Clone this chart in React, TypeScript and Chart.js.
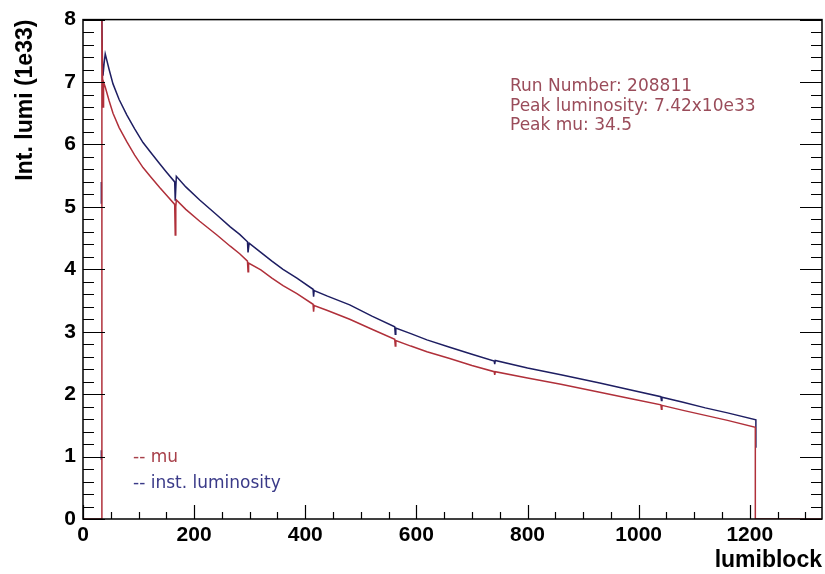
import React, { useEffect, useRef } from 'react';
import { Chart, registerables } from 'chart.js';

Chart.register(...registerables);

// inst. luminosity (blue)
const lumiBlocksInst: number[] = [33, 33, 33, 33, 33, 34, 34, 35, 36, 38, 40, 47, 54, 65, 79, 93, 108, 122, 138, 150, 165, 166, 167, 168, 185, 210, 241, 265, 282, 296, 297, 298, 299, 320, 340, 360, 385, 414, 415, 416, 440, 480, 520, 561, 562, 563, 590, 619, 660, 700, 740, 741, 742, 800, 860, 930, 980, 1040, 1041, 1042, 1080, 1120, 1160, 1211, 1211];
const instLumi: (number | null)[] = [0.95, 1.1, null, 5.05, 5.4, null, 8.0, 7.3, 7.1, 7.3, 7.45, 7.2, 6.97, 6.72, 6.47, 6.25, 6.03, 5.87, 5.69, 5.56, 5.4, 5.1, 5.1, 5.49, 5.32, 5.11, 4.87, 4.68, 4.56, 4.44, 4.27, 4.27, 4.42, 4.27, 4.13, 4.0, 3.86, 3.68, 3.56, 3.66, 3.57, 3.43, 3.25, 3.08, 2.96, 3.06, 2.97, 2.87, 2.75, 2.64, 2.53, 2.48, 2.54, 2.42, 2.31, 2.18, 2.08, 1.96, 1.9, 1.95, 1.87, 1.78, 1.7, 1.59, 1.14];

// mu (red, scaled)
const lumiBlocksMu: number[] = [0, 34, 34, 35, 36, 37, 40, 47, 54, 65, 79, 93, 108, 122, 138, 150, 165, 166, 167, 168, 185, 210, 241, 265, 282, 296, 297, 298, 320, 340, 360, 385, 414, 415, 416, 440, 480, 520, 561, 562, 563, 590, 619, 660, 700, 740, 741, 742, 800, 860, 930, 980, 1040, 1041, 1042, 1080, 1120, 1160, 1210, 1210, 1330];
const muValues: number[] = [0, 0, 8.0, 7.2, 6.6, 7.0, 6.92, 6.7, 6.5, 6.27, 6.04, 5.83, 5.63, 5.48, 5.31, 5.19, 5.04, 4.55, 5.0, 5.11, 4.96, 4.77, 4.55, 4.37, 4.25, 4.13, 3.96, 4.1, 3.99, 3.86, 3.74, 3.61, 3.44, 3.32, 3.42, 3.34, 3.2, 3.04, 2.88, 2.77, 2.86, 2.77, 2.68, 2.57, 2.46, 2.36, 2.31, 2.36, 2.26, 2.16, 2.03, 1.94, 1.83, 1.76, 1.82, 1.74, 1.66, 1.58, 1.47, 0, 0];

const xMin = 0;
const xMax = 1330;
const yMin = 0;
const yMax = 8;
const xMajorStep = 200;
const xMinorStep = 50;
const yMajorStep = 1;
const yMinorStep = 0.2;

const infoLines: string[] = ['Run Number: 208811', 'Peak luminosity: 7.42x10e33', 'Peak mu: 34.5'];
const legendLabels: string[] = ['-- mu', '-- inst. luminosity'];

const BLUE = '#1e1e62';
const RED = '#b0303a';

const framePlugin = {
  id: 'rootFrame',
  afterDatasetsDraw(chart: any) {
    const { ctx, chartArea: a, scales } = chart;
    const x = scales.x;
    const y = scales.y;
    ctx.save();
    ctx.strokeStyle = '#000';
    ctx.lineWidth = 1.5;
    ctx.strokeRect(a.left, a.top, a.right - a.left, a.bottom - a.top);
    ctx.lineWidth = 1.2;
    ctx.beginPath();
    const nx = Math.round((xMax - xMin) / xMinorStep);
    for (let i = 0; i <= nx; i++) {
      const v = xMin + i * xMinorStep;
      const px = Math.round(x.getPixelForValue(v)) + 0.5;
      const major = Math.abs(v / xMajorStep - Math.round(v / xMajorStep)) < 1e-6;
      const len = major ? 14 : 7;
      ctx.moveTo(px, a.bottom);
      ctx.lineTo(px, a.bottom - len);
    }
    const ny = Math.round((yMax - yMin) / yMinorStep);
    for (let i = 0; i <= ny; i++) {
      const v = yMin + i * yMinorStep;
      const py = Math.round(y.getPixelForValue(v)) + 0.5;
      const major = Math.abs(v / yMajorStep - Math.round(v / yMajorStep)) < 1e-6;
      const len = major ? 22 : 11;
      ctx.moveTo(a.left, py);
      ctx.lineTo(a.left + len, py);
      ctx.moveTo(a.right, py);
      ctx.lineTo(a.right - len, py);
    }
    ctx.stroke();

    // info text
    ctx.font = '17px "DejaVu Sans"';
    ctx.fillStyle = '#9a4c5a';
    ctx.textAlign = 'left';
    ctx.textBaseline = 'middle';
    infoLines.forEach((t, i) => {
      ctx.fillText(t, 510, 87 + i * 19.5);
    });

    // legend text
    const legendColors = ['#a8404a', '#3a3a88'];
    legendLabels.forEach((t, i) => {
      ctx.fillStyle = legendColors[i];
      ctx.fillText(t, 133, 458 + i * 26);
    });
    ctx.restore();
  },
};

export default function App() {
  const ref = useRef<HTMLCanvasElement | null>(null);

  useEffect(() => {
    if (!ref.current) return;
    const chart = new Chart(ref.current, {
      type: 'line',
      data: {
        datasets: [
          {
            label: 'mu',
            data: lumiBlocksMu.map((lb, i) => ({ x: lb, y: muValues[i] })),
            borderColor: RED,
            borderWidth: 1.5,
            pointRadius: 0,
            tension: 0,
            spanGaps: false,
          },
          {
            label: 'inst. luminosity',
            data: lumiBlocksInst.map((lb, i) => ({ x: lb, y: instLumi[i] })),
            borderColor: BLUE,
            borderWidth: 1.5,
            pointRadius: 0,
            tension: 0,
            spanGaps: false,
          },
        ],
      },
      options: {
        animation: false,
        responsive: false,
        devicePixelRatio: 1,
        layout: { padding: { left: 0, top: 15, right: 3, bottom: 0 } },
        plugins: {
          legend: { display: false },
          tooltip: { enabled: false },
        },
        scales: {
          x: {
            type: 'linear',
            min: xMin,
            max: xMax,
            grid: { display: false, drawTicks: false },
            border: { display: false },
            ticks: {
              stepSize: xMajorStep,
              includeBounds: false,
              padding: 4,
              color: '#000',
              font: { family: '"Liberation Sans", Arial, sans-serif', size: 21, weight: 'bold' },
              maxRotation: 0,
              autoSkip: false,
              callback: (v: any) => String(v),
            },
            title: {
              display: true,
              text: 'lumiblock',
              align: 'end',
              color: '#000',
              font: { family: '"Liberation Sans", Arial, sans-serif', size: 23, weight: 'bold' },
              padding: { top: 0, bottom: 0 },
            },
            afterFit: (s: any) => {
              s.height = 55;
            },
          },
          y: {
            type: 'linear',
            min: yMin,
            max: yMax,
            grid: { display: false, drawTicks: false },
            border: { display: false },
            ticks: {
              stepSize: yMajorStep,
              padding: 7,
              color: '#000',
              font: { family: '"Liberation Sans", Arial, sans-serif', size: 21, weight: 'bold' },
              callback: (v: any) => String(v),
            },
            title: {
              display: true,
              text: 'Int. lumi (1e33)',
              align: 'end',
              color: '#000',
              font: { family: '"Liberation Sans", Arial, sans-serif', size: 23, weight: 'bold' },
              padding: { top: 12, bottom: 0 },
            },
            afterFit: (s: any) => {
              s.width = 83;
            },
          },
        },
      } as any,
      plugins: [framePlugin],
    });
    return () => chart.destroy();
  }, []);

  return (
    <div style={{ position: 'fixed', left: 0, top: 0, width: 825, height: 574, background: '#fff' }}>
      <canvas ref={ref} width={825} height={574} style={{ width: 825, height: 574, display: 'block' }} />
    </div>
  );
}
